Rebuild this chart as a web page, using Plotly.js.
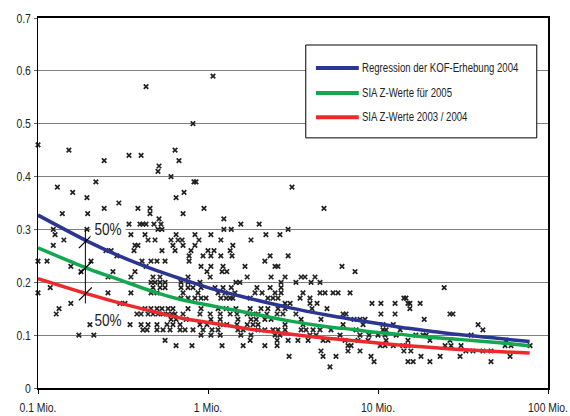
<!DOCTYPE html>
<html>
<head>
<meta charset="utf-8">
<script src="https://cdn.plot.ly/plotly-3.0.1.min.js"></script>
<style>
  html, body { margin: 0; padding: 0; background: #fff; }
  #chart { width: 570px; height: 416px; }
</style>
</head>
<body>
<div id="chart"></div>
<script>
// ---- Data (x in Mio., y as ratio) ----
const xTickVals = [0.1, 1, 10, 100];
const xTickText = ["0.1 Mio.", "1 Mio.", "10 Mio.", "100 Mio."];
const yTickVals = [0, 0.1, 0.2, 0.3, 0.4, 0.5, 0.6, 0.7];
const yTickText = ["0", "0.1", "0.2", "0.3", "0.4", "0.5", "0.6", "0.7"];

// Survey points, grouped by y level (surveyLevels[i] pairs with surveyXByLevel[i])
const surveyLevels = [0.59, 0.57, 0.50, 0.46, 0.45, 0.44, 0.43, 0.42, 0.41, 0.40,
  0.39, 0.38, 0.37, 0.36, 0.35, 0.34, 0.33, 0.32, 0.31, 0.30,
  0.29, 0.28, 0.27, 0.26, 0.25, 0.24, 0.23, 0.22, 0.21, 0.20,
  0.19, 0.18, 0.17, 0.16, 0.15, 0.14, 0.13, 0.12, 0.11, 0.10,
  0.09, 0.08, 0.07, 0.06, 0.05, 0.04];
const surveyXByLevel = [
  [1.07],
  [0.432],
  [0.816],
  [0.1],
  [0.152, 0.64],
  [0.343, 0.404],
  [0.245, 0.675],
  [0.515],
  [0.508],
  [0.606],
  [0.219, 0.827, 0.85],
  [0.13, 3.12],
  [0.16, 0.723],
  [0.194, 0.649],
  [0.299],
  [0.245, 0.387, 0.456, 0.947, 4.81],
  [0.139, 0.196, 0.456, 0.713],
  [0.515, 1.24],
  [0.343, 0.398, 0.414, 0.432, 0.481, 0.529, 1.56, 2.0],
  [0.123, 0.194, 0.508, 0.536, 1.24, 1.37, 2.96],
  [0.126, 0.352, 0.426, 0.649, 0.838, 1.04, 2.19, 2.65],
  [0.142, 0.444, 0.488, 0.606, 0.666, 0.704, 0.885, 1.19, 1.79],
  [0.123, 0.372, 0.387, 0.622, 0.713, 0.838, 1.40],
  [0.251, 0.269, 0.367, 0.536, 0.64, 0.794, 1.0, 1.085, 1.35],
  [0.291, 0.774, 0.935, 1.04, 1.19, 1.385, 2.32, 2.96],
  [0.1, 0.113, 0.205, 0.409, 0.462, 0.501, 0.559, 0.774, 2.16],
  [0.156, 0.432, 0.91, 1.04, 1.226, 1.65, 2.48, 2.58, 6.14],
  [0.179, 0.276, 0.372, 0.986, 1.21, 1.29, 7.33],
  [0.258, 0.352, 0.475, 0.522, 0.763, 1.03, 1.70, 2.35, 2.84, 3.53, 3.72, 4.26],
  [0.462, 0.488, 0.522, 0.559, 0.694, 0.763, 0.897, 1.46, 1.54, 2.69, 3.29, 4.04, 4.56],
  [0.118, 0.475, 0.522, 0.559, 0.694, 0.763, 0.816, 0.91, 1.10, 1.226, 1.37, 1.94, 2.32, 2.69, 24.5],
  [0.1, 0.258, 0.352, 0.462, 0.501, 0.713, 0.873, 1.146, 1.26, 1.44, 1.89, 2.08, 2.48, 2.69, 3.62, 4.56, 4.88, 5.44, 5.82, 6.85],
  [0.694, 0.763, 0.838, 0.91, 0.973, 1.19, 1.28, 1.35, 1.40, 1.77, 2.25, 2.41, 2.58, 3.48, 3.98, 14.2, 14.6],
  [0.156, 0.303, 0.325, 2.84, 3.04, 3.98, 4.38, 9.22, 10.4, 12.6, 15.0, 15.4, 17.7],
  [0.133, 0.426, 0.462, 0.501, 0.536, 0.582, 0.622, 0.763, 0.91, 1.146, 1.28, 1.46, 1.77, 2.05, 2.25, 2.58, 2.84, 4.09, 5.01, 15.4],
  [0.128, 0.382, 0.404, 0.444, 0.475, 0.508, 0.544, 0.582, 0.614, 0.64, 0.713, 0.897, 1.03, 1.18, 1.35, 1.48, 1.70, 1.84, 1.97, 2.22, 2.55, 2.76, 3.29, 6.23, 6.49, 10.4, 12.6, 26.5, 27.6],
  [0.606, 0.649, 0.743, 1.04, 1.18, 1.50, 1.79, 1.92, 2.16, 2.35, 3.53, 4.62, 7.23, 7.84, 8.39, 18.7],
  [0.202, 0.348, 0.404, 0.444, 0.501, 0.574, 0.622, 0.685, 0.897, 0.986, 1.18, 1.29, 1.48, 1.70, 1.84, 1.97, 2.84, 3.62, 6.23, 8.17, 10.7, 12.3, 38.8],
  [0.414, 0.438, 0.501, 0.544, 0.598, 0.685, 0.733, 0.816, 0.935, 1.056, 1.146, 1.50, 1.61, 1.97, 2.16, 2.41, 2.58, 2.84, 3.53, 3.77, 4.15, 4.56, 5.29, 7.43, 10.7, 11.15, 13.5, 41.4],
  [0.174, 0.213, 0.91, 1.04, 1.18, 1.56, 1.79, 2.48, 2.65, 3.98, 4.32, 5.98, 7.84, 8.86, 10.0, 11.0, 12.8, 16.7, 18.4, 19.2, 35.3],
  [0.559, 1.77, 2.55, 2.96, 3.38, 3.88, 4.75, 5.08, 6.40, 7.63, 8.74, 11.15, 15.0, 20.2, 26.5, 56.6],
  [0.649, 0.805, 1.21, 1.61, 2.16, 2.55, 6.66, 6.94, 10.3, 11.0, 12.3, 14.0, 15.0, 24.8, 26.9, 30.8, 55.9, 60.6, 78.4],
  [4.62, 6.66, 7.84, 14.2, 15.6, 32.9, 36.2, 41.4, 46.2],
  [3.0, 4.75, 5.66, 9.10, 17.9, 23.2, 30.4, 59.8],
  [9.48, 15.0, 16.1, 20.2, 46.2],
  [5.22]
];

// Curves
const curveX = [0.1, 0.2, 0.3, 0.5, 0.7, 1, 1.5, 2, 3, 5, 7, 10, 15, 20, 30, 50, 78];
const kofRegression = [0.327, 0.276, 0.250, 0.222, 0.206, 0.190, 0.175, 0.165, 0.152, 0.138, 0.130, 0.122, 0.113, 0.108, 0.101, 0.094, 0.088];
const sia2005 = [0.265, 0.225, 0.205, 0.180, 0.167, 0.157, 0.146, 0.138, 0.127, 0.116, 0.111, 0.105, 0.100, 0.096, 0.092, 0.086, 0.080];
const sia2003 = [0.207, 0.177, 0.161, 0.143, 0.132, 0.124, 0.115, 0.109, 0.102, 0.094, 0.090, 0.085, 0.080, 0.077, 0.073, 0.069, 0.066];
const seriesNames = ["Regression der KOF-Erhebung 2004", "SIA Z-Werte für 2005", "SIA Z-Werte 2003 / 2004"];
const seriesColors = ["#2b3592", "#13a84f", "#ec2a2e"];

// 50% spread marker: at 0.19 Mio.
const spreadX = 0.19;
const spreadRange = [0.30, 0.16];
const spreadHits = [0.277, 0.227, 0.178];
const spreadLabel = "50%";
const spreadLabelX = 0.258;
const spreadLabelY = [0.30, 0.128];

// ---- Build ----
const FONT = "'Liberation Sans', Arial, sans-serif";
const sx = [], sy = [];
surveyLevels.forEach((lv, i) => surveyXByLevel[i].forEach(x => { sx.push(x); sy.push(lv); }));

const traces = [];
traces.push({
  x: sx, y: sy, type: 'scatter', mode: 'markers', showlegend: false, hoverinfo: 'skip',
  marker: { symbol: 'x-thin-open', size: 4.5, color: '#222', line: { width: 1.7, color: '#222' } },
  cliponaxis: false
});
[kofRegression, sia2005, sia2003].forEach((ys, i) => {
  traces.push({
    x: curveX, y: ys, type: 'scatter', mode: 'lines', name: seriesNames[i], showlegend: false,
    line: { color: seriesColors[i], width: 3.5, shape: 'spline', smoothing: 0.8 }
  });
});
traces.push({
  x: [spreadX, spreadX], y: spreadRange, type: 'scatter', mode: 'lines', showlegend: false,
  line: { color: '#000', width: 1 }, hoverinfo: 'skip'
});
traces.push({
  x: spreadHits.map(() => spreadX), y: spreadHits, type: 'scatter', mode: 'markers', showlegend: false,
  marker: { symbol: 'line-ne-open', size: 13, color: '#000', line: { width: 1.2, color: '#000' } },
  hoverinfo: 'skip'
});

// Manual legend box
const legX0 = 0.525, legX1 = 0.978, legY0 = 0.676, legY1 = 0.927;
const legRows = [0.865, 0.797, 0.732];
const shapes = [{
  type: 'rect', xref: 'paper', yref: 'paper', x0: legX0, x1: legX1, y0: legY0, y1: legY1,
  line: { color: '#000', width: 1 }, fillcolor: '#fff', layer: 'above'
}];
const annotations = [];
seriesNames.forEach((nm, i) => {
  shapes.push({
    type: 'line', xref: 'paper', yref: 'paper', x0: 0.545, x1: 0.629, y0: legRows[i], y1: legRows[i],
    line: { color: seriesColors[i], width: 4 }, layer: 'above'
  });
  annotations.push({
    xref: 'paper', yref: 'paper', x: 0.631, y: legRows[i], xanchor: 'left', yanchor: 'middle',
    text: nm, showarrow: false, font: { family: FONT, size: 12, color: '#222' }
  });
});
spreadLabelY.forEach((yv, i) => {
  annotations.push({
    x: Math.log10(spreadLabelX), y: yv, xref: 'x', yref: 'y', text: spreadLabel, showarrow: false,
    font: { family: FONT, size: 17, color: '#222' }, bgcolor: i === 0 ? '#fff' : 'rgba(0,0,0,0)', borderpad: 0
  });
});

const layout = {
  width: 570, height: 416,
  margin: { l: 38, r: 22, t: 18, b: 28 },
  paper_bgcolor: '#fff', plot_bgcolor: '#fff',
  font: { family: FONT, size: 13, color: '#222' },
  showlegend: false,
  xaxis: {
    type: 'log', range: [-1, 2], tickvals: xTickVals, ticktext: xTickText,
    ticks: 'outside', ticklen: 4, tickcolor: '#000', tickwidth: 1,
    showline: true, linecolor: '#000', linewidth: 2, mirror: true,
    showgrid: false, zeroline: false, ticklabelstandoff: 2, ticklabeloverflow: 'allow',
    tickfont: { family: FONT, size: 13, color: '#222' }
  },
  yaxis: {
    range: [0, 0.7], tickvals: yTickVals, ticktext: yTickText,
    ticks: 'outside', ticklen: 3, tickcolor: '#666',
    showline: true, linecolor: '#000', linewidth: 1.5, mirror: true,
    showgrid: true, gridcolor: '#808080', gridwidth: 1, zeroline: false,
    tickfont: { family: FONT, size: 13, color: '#222' }
  },
  shapes: shapes,
  annotations: annotations
};

// The reference uses a narrow face; compress the rendered text horizontally.
// Legend labels (annotations 0..2) keep their left edge.
function condenseText(factor) {
  document.querySelectorAll('#chart text').forEach(t => {
    const len = t.getComputedTextLength();
    if (len <= 0) return;
    t.setAttribute('textLength', (len * factor).toFixed(1));
    t.setAttribute('lengthAdjust', 'spacingAndGlyphs');
    const ann = t.closest('.annotation');
    if (ann) {
      const idx = parseInt(ann.getAttribute('data-index'), 10);
      if (idx < seriesNames.length) {
        const x0 = parseFloat(t.getAttribute('x') || '0');
        t.setAttribute('x', (x0 - len * (1 - factor) / 2).toFixed(1));
      }
    }
  });
}

Plotly.newPlot('chart', traces, layout, { staticPlot: true, displayModeBar: false })
  .then(() => condenseText(0.8));
</script>
</body>
</html>
